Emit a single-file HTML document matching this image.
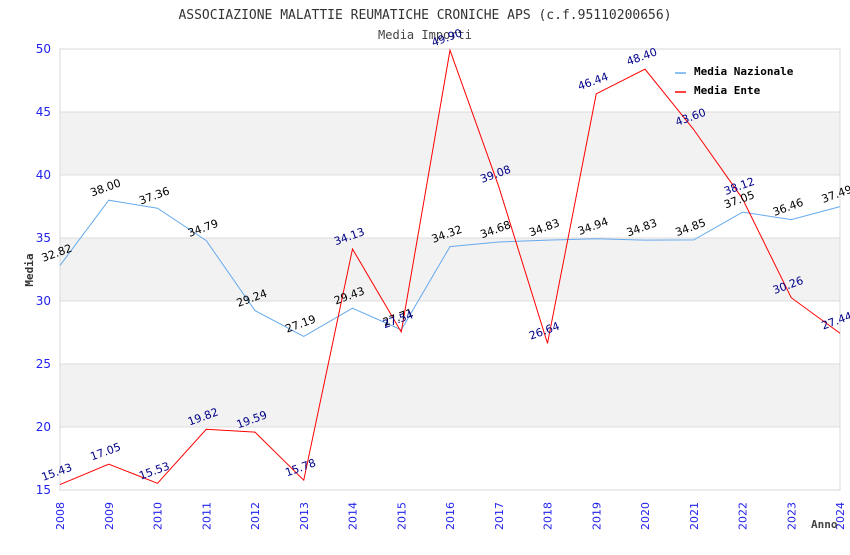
<!DOCTYPE html>
<html><head><meta charset="utf-8"><style>
body{margin:0;background:#fff;width:850px;height:550px;overflow:hidden}
svg text{font-family:"DejaVu Sans","Liberation Sans",sans-serif}
</style></head><body>
<svg id="c" width="850" height="550">
<text x="425" y="19" text-anchor="middle" font-size="13" fill="#333" style="font-family:'DejaVu Sans Mono','Liberation Mono',monospace">ASSOCIAZIONE MALATTIE REUMATICHE CRONICHE APS (c.f.95110200656)</text>
<text x="425" y="39" text-anchor="middle" font-size="12" fill="#444" style="font-family:'DejaVu Sans Mono','Liberation Mono',monospace">Media Importi</text>
<g id="bands"></g><g id="grid"></g><g id="axes"></g><g id="series"></g><g id="labels"></g>
<text x="0" y="0" transform="translate(33,270) rotate(-90)" text-anchor="middle" font-size="11" font-weight="bold" fill="#333" style="font-family:'DejaVu Sans Mono',monospace">Media</text>
<text x="811" y="528" font-size="11" font-weight="bold" fill="#444" style="font-family:'DejaVu Sans Mono',monospace">Anno</text>
<g>
<line x1="675" y1="73" x2="686" y2="73" stroke="#66aaee" stroke-width="1.5"/>
<text x="694" y="75" font-size="11" font-weight="bold" fill="#000" style="font-family:'DejaVu Sans Mono',monospace">Media Nazionale</text>
<line x1="675" y1="92" x2="686" y2="92" stroke="#ff0000" stroke-width="1.5"/>
<text x="694" y="94" font-size="11" font-weight="bold" fill="#000" style="font-family:'DejaVu Sans Mono',monospace">Media Ente</text>
</g>
</svg>
<script>
const years=[2008,2009,2010,2011,2012,2013,2014,2015,2016,2017,2018,2019,2020,2021,2022,2023,2024];
const nazionale=[32.82,38.00,37.36,34.79,29.24,27.19,29.43,27.71,34.32,34.68,34.83,34.94,34.83,34.85,37.05,36.46,37.49];
const ente=[15.43,17.05,15.53,19.82,19.59,15.78,34.13,27.54,49.90,39.08,26.64,46.44,48.40,43.60,38.12,30.26,27.44];
const yTicks=[15,20,25,30,35,40,45,50];
const NS='http://www.w3.org/2000/svg';
const L=60,R=840,T=49,B=490,ymin=15,ymax=50;
const xs=i=>L+i*(R-L)/(years.length-1);
const ys=v=>B-(v-ymin)/(ymax-ymin)*(B-T);
function mk(tag,attrs,parent,txt){const e=document.createElementNS(NS,tag);for(const k in attrs)e.setAttribute(k,attrs[k]);if(txt!==undefined)e.textContent=txt;document.getElementById(parent).appendChild(e);return e;}
for(let i=0;i<yTicks.length-1;i++){
  if(i%2===1){const r=mk('rect',{x:L,y:ys(yTicks[i+1]),width:R-L,height:ys(yTicks[i])-ys(yTicks[i+1]),fill:'#f2f2f2'},'bands');
  
  }
}
yTicks.forEach(v=>{
  const l=mk('line',{x1:L,x2:R,y1:ys(v),y2:ys(v),stroke:'#dcdcdc'},'grid');
  
  
  const t=mk('text',{x:L-9,y:ys(v)+4,'text-anchor':'end','font-size':12,fill:'#2222ee'},'axes',String(v));
  
  
});
const fr=mk('rect',{x:L,y:T,width:R-L,height:B-T,fill:'none',stroke:'#d8d8d8'},'axes');


years.forEach((y,i)=>{
  const t=mk('text',{x:0,y:0,transform:`translate(${xs(i)+4},530) rotate(-90)`,'font-size':11,fill:'#2222ee'},'axes',String(y));
  
  
});
function series(vals,color,lblColor,name){
  const p=mk('polyline',{points:vals.map((v,i)=>xs(i)+','+ys(v)).join(' '),fill:'none',stroke:color,'stroke-width':1},'series');
  
  
  vals.forEach((v,i)=>{
    const t=mk('text',{x:0,y:0,transform:`translate(${xs(i)-2},${ys(v)-9}) rotate(-20)`,'text-anchor':'middle','font-size':11,fill:lblColor},'labels',v.toFixed(2));
    
    
  });
}
series(nazionale,'#66aaee','#000','nazionale');
series(ente,'#ff0000','#000088','ente');
</script>
</body></html>
